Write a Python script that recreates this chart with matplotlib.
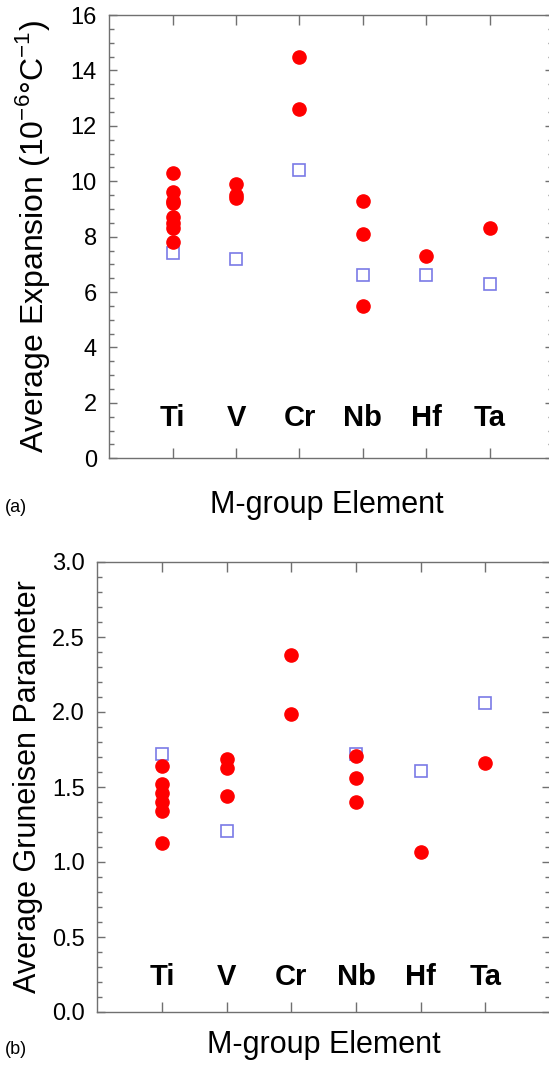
import numpy as np
import matplotlib
matplotlib.use("Agg")
import matplotlib.pyplot as plt
from matplotlib.ticker import MultipleLocator, FormatStrFormatter

plt.rcParams['font.family'] = ['Liberation Sans', 'DejaVu Sans']
plt.rcParams['mathtext.fontset'] = 'custom'
plt.rcParams['mathtext.rm'] = 'Liberation Sans'

elements = ["Ti", "V", "Cr", "Nb", "Hf", "Ta"]

# (a) average thermal expansion, 10^-6 /C
exp_circ_x = ["Ti"] * 8 + ["V"] * 3 + ["Cr"] * 2 + ["Nb"] * 3 + ["Hf", "Ta"]
exp_circ_y = [10.3, 9.6, 9.3, 9.2, 8.7, 8.5, 8.3, 7.8,
              9.9, 9.5, 9.4,
              14.5, 12.6,
              9.3, 8.1, 5.5,
              7.3, 8.3]
exp_sq_y = [7.4, 7.2, 10.4, 6.6, 6.6, 6.3]

# (b) average Gruneisen parameter
gru_circ_x = ["Ti"] * 6 + ["V"] * 3 + ["Cr"] * 2 + ["Nb"] * 3 + ["Hf", "Ta"]
gru_circ_y = [1.64, 1.52, 1.46, 1.40, 1.34, 1.13,
              1.69, 1.63, 1.44,
              2.38, 1.99,
              1.71, 1.56, 1.40,
              1.07, 1.66]
gru_sq_y = [1.72, 1.21, None, 1.72, 1.61, 2.06]

W, H = 549, 1071
fig = plt.figure(figsize=(W / 100, H / 100), dpi=100)

def box(l, r, t, b):
    return [l / W, 1 - b / H, (r - l) / W, (b - t) / H]

ax1 = fig.add_axes(box(109.3, 553, 15, 458.3))
ax2 = fig.add_axes(box(97.3, 550, 562, 1012))

pos = {e: i + 1 for i, e in enumerate(elements)}
grey = "#707070"
sq_col = "#7a7ae6"

def style(ax, ymax, major, minor):
    ax.set_xlim(0, 7)
    ax.set_ylim(0, ymax)
    ax.set_xticks(range(1, 7))
    ax.set_xticklabels([])
    ax.yaxis.set_major_locator(MultipleLocator(major))
    ax.yaxis.set_minor_locator(MultipleLocator(minor))
    ax.tick_params(axis='x', direction='in', top=True, bottom=True, length=7,
                   width=1, color=grey)
    ax.tick_params(axis='y', which='major', direction='in', left=True, right=True,
                   length=6, width=1, color=grey, labelsize=17, pad=9)
    ax.tick_params(axis='y', which='minor', direction='in', left=True, right=True,
                   length=3.5, width=1, color=grey)
    for s in ax.spines.values():
        s.set_color(grey)
        s.set_linewidth(1)

# panel a
ax1.plot([pos[e] for e in exp_circ_x], exp_circ_y, 'o', color='red', ms=9.5, zorder=3)
ax1.plot([pos[e] for e in elements], exp_sq_y, 's', mfc='none', mec=sq_col, ms=9,
         mew=1.2, zorder=2)
style(ax1, 16, 2, 0.5)
for e in elements:
    ax1.text(pos[e], 1.45, e, ha='center', va='center', fontsize=21, fontweight='bold')
ax1.set_ylabel("Average Expansion (10$^{-6}$°C$^{-1}$)", fontsize=23, va='center')
ax1.yaxis.set_label_coords(-0.172, 0.5)
ax1.set_xlabel("M-group Element", fontsize=22, va='center')
ax1.xaxis.set_label_coords(0.49, -0.105)

# panel b
ax2.plot([pos[e] for e in gru_circ_x], gru_circ_y, 'o', color='red', ms=9.5, zorder=3)
sq_x = [pos[e] for e, v in zip(elements, gru_sq_y) if v is not None]
sq_v = [v for v in gru_sq_y if v is not None]
ax2.plot(sq_x, sq_v, 's', mfc='none', mec=sq_col, ms=9, mew=1.2, zorder=2)
ax2.yaxis.set_major_formatter(FormatStrFormatter('%.1f'))
style(ax2, 3, 0.5, 0.1)
for e in elements:
    ax2.text(pos[e], 0.235, e, ha='center', va='center', fontsize=21, fontweight='bold')
ax2.set_ylabel("Average Gruneisen Parameter", fontsize=22, va='center')
ax2.yaxis.set_label_coords(-0.152, 0.5)
ax2.set_xlabel("M-group Element", fontsize=22, va='center')
ax2.xaxis.set_label_coords(0.5, -0.073)

fig.text(5 / W, 1 - 507 / H, "(a)", fontsize=13, va='center')
fig.text(5 / W, 1 - 1050 / H, "(b)", fontsize=13, va='center')

fig.savefig("out.png", dpi=100)
